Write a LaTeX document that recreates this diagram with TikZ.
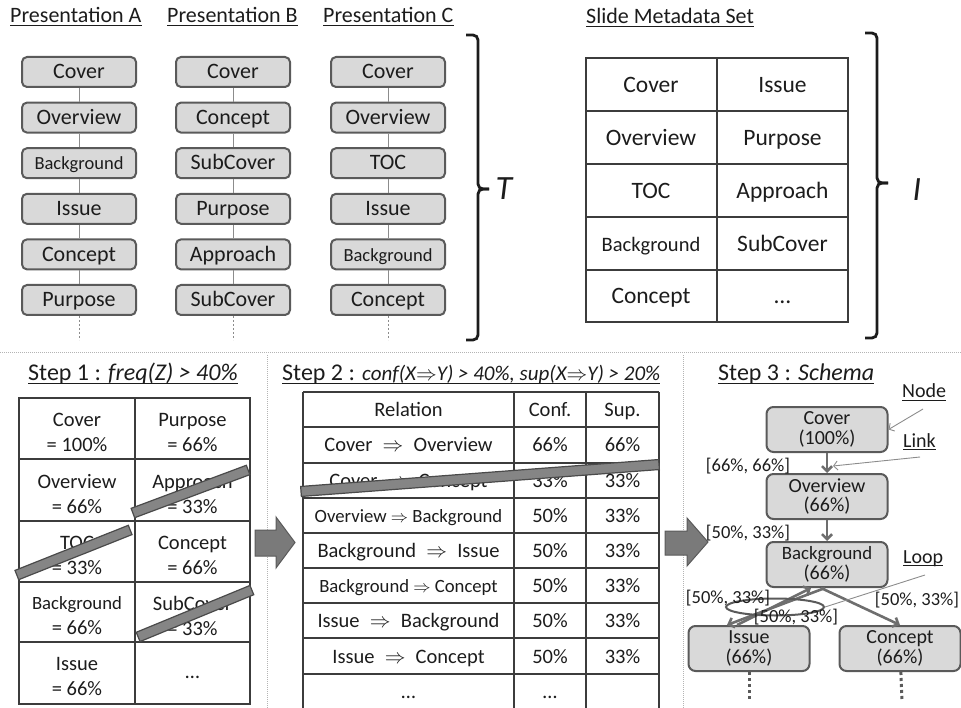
\documentclass[tikz,border=0pt]{standalone}
\usepackage{fontspec}
\setmainfont{Carlito}
\usetikzlibrary{arrows.meta,shapes.geometric}

\definecolor{boxfill}{HTML}{D9D9D9}
\definecolor{boxline}{HTML}{5A5A5A}
\definecolor{linkgray}{HTML}{6E6E6E}
\definecolor{thingray}{HTML}{8C8C8C}
\definecolor{strikefill}{HTML}{858585}
\definecolor{strikeline}{HTML}{4A4A4A}
\definecolor{arrowfill}{HTML}{7A7A7A}
\definecolor{divgray}{HTML}{B4B4B4}
\definecolor{gridc}{HTML}{3C3C3C}
\definecolor{ink}{HTML}{1C1C1C}

\newcommand{\setfs}[1]{\fontsize{#1}{#1}\selectfont}
\newcommand{\setfsl}[2]{\fontsize{#1}{#2}\selectfont}

\begin{document}
\begin{tikzpicture}[x=1pt,y=-1pt,
  slide/.style={draw=boxline, fill=boxfill, line width=2pt, rounded corners=5pt,
    minimum width=114pt, minimum height=30pt, inner sep=0pt, text=ink, font=\setfs{22},
    text height=16.5pt, text depth=3pt},
  seq/.style={draw=thingray, line width=0.9pt},
  more/.style={draw=thingray, line width=0.9pt, dash pattern=on 2pt off 2pt},
  title/.style={inner sep=0pt, anchor=base west, text=ink, font=\setfs{22}},
  steptitle/.style={title, font=\setfs{24}},
  uline/.style={draw=ink, line width=0.9pt},
  grid/.style={draw=gridc, line width=1.3pt},
  mcell/.style={inner sep=0pt, text=ink, font=\setfs{23.5}, text height=19pt, text depth=3pt},
  fcell/.style={inner sep=0pt, text=ink, align=center, font=\setfsl{20.5}{25}, yshift=-4pt},
  rcell/.style={inner sep=0pt, text=ink, font=\setfs{20.5}, text height=17pt, text depth=3pt},
  strike/.style={draw=strikeline, fill=strikefill, line width=1.2pt, minimum height=10pt, inner sep=0pt},
  block/.style={draw=boxline, fill=arrowfill, line width=1pt},
  schema/.style={draw=boxline, fill=boxfill, line width=2pt, rounded corners=7pt,
    minimum width=121pt, minimum height=45pt, inner sep=0pt, align=center, text=ink,
    font=\setfsl{20}{19.5}},
  link/.style={draw=linkgray, line width=2.6pt, -{Straight Barb[length=5pt,width=10pt]}},
  lbl/.style={inner sep=0pt, text=ink, font=\setfs{18.5}},
  pointer/.style={draw=thingray, line width=0.9pt, -{Straight Barb[length=4pt,width=9pt]}},
  brace/.style={draw=ink, line width=2.8pt, rounded corners=5pt},
  divider/.style={draw=divgray, line width=0.9pt, dash pattern=on 1pt off 1pt},
  tail/.style={draw=boxline, line width=3pt, dash pattern=on 3pt off 3pt}
]
\useasboundingbox (0,0) rectangle (961,708);

% ---------- three presentations ----------
\node[title] (tA) at (10,23) {Presentation A};
\node[title] (tB) at (167,23) {Presentation B};
\node[title] (tC) at (323,23) {Presentation C};

\foreach [count=\i] \t in {Cover,Overview,{\setfs{18.5}Background},Issue,Concept,Purpose}
  \node[slide] (A\i) at (79,{72+45.6*(\i-1)}) {\t};
\foreach [count=\i] \t in {Cover,Concept,SubCover,Purpose,Approach,SubCover}
  \node[slide] (B\i) at (233,{72+45.6*(\i-1)}) {\t};
\foreach [count=\i] \t in {Cover,Overview,TOC,Issue,{\setfs{18.5}Background},Concept}
  \node[slide] (C\i) at (388,{72+45.6*(\i-1)}) {\t};

\foreach \p in {A,B,C}{
  \foreach \i/\j in {1/2,2/3,3/4,4/5,5/6}
    \draw[seq] (\p\i) -- (\p\j);
}
\coordinate (Aend) at (79,340);
\coordinate (Bend) at (233,340);
\coordinate (Cend) at (388,340);
\draw[more] (A6) -- (Aend);
\draw[more] (B6) -- (Bend);
\draw[more] (C6) -- (Cend);

% brace T
\draw[brace] (466,35) -| (478,189) -- (489,189);
\draw[brace] (489,189) -- (478,189) |- (466,340);
\node[inner sep=0pt, text=ink, font=\setfs{34}\itshape] (T) at (504,189) {T};

% ---------- slide metadata set ----------
\node[title] (tM) at (586,24) {Slide Metadata Set};
\draw[grid] (586,58) rectangle (848,322);
\foreach \y in {111,164,217,270} \draw[grid] (586,\y) -- (848,\y);
\draw[grid] (717,58) -- (717,322);
\node[mcell] (m11) at (651,84.5) {Cover};
\node[mcell] (m12) at (782.5,84.5) {Issue};
\node[mcell] (m21) at (651,137.5) {Overview};
\node[mcell] (m22) at (782.5,137.5) {Purpose};
\node[mcell] (m31) at (651,190.5) {TOC};
\node[mcell] (m32) at (782.5,190.5) {Approach};
\node[mcell, font=\setfs{20.5}] (m41) at (651,243.5) {Background};
\node[mcell] (m42) at (782.5,243.5) {SubCover};
\node[mcell] (m51) at (651,296) {Concept};
\node[mcell] (m52) at (782.5,296) {\ldots};

% brace I
\draw[brace] (865,33) -| (877,183) -- (888,183);
\draw[brace] (888,183) -- (877,183) |- (865,338);
\node[inner sep=0pt, text=ink, font=\setfs{34}\itshape] (I) at (917,190) {I};

% ---------- dividers ----------
\draw[divider] (0,352) -- (961,352);
\draw[divider] (267,355) -- (267,708);
\draw[divider] (683,355) -- (683,708);

% ---------- step 1 ----------
\node[steptitle] (s1) at (28,381) {Step 1 : \textit{freq(Z) > 40\%}};
\draw[grid] (19,398) rectangle (250,704);
\foreach \y in {459,521,582,642} \draw[grid] (19,\y) -- (250,\y);
\draw[grid] (135,398) -- (135,704);
\node[fcell] (f11) at (77,428.5) {Cover\\= 100\%};
\node[fcell] (f12) at (192.5,428.5) {Purpose\\= 66\%};
\node[fcell] (f21) at (77,490) {Overview\\= 66\%};
\node[fcell] (f22) at (192.5,490) {Approach\\= 33\%};
\node[fcell] (f31) at (77,551.5) {TOC\\= 33\%};
\node[fcell] (f32) at (192.5,551.5) {Concept\\= 66\%};
\node[fcell] (f41) at (77,612) {{\setfsl{18.7}{25}Background}\\= 66\%};
\node[fcell] (f42) at (192.5,612) {SubCover\\= 33\%};
\node[fcell] (f51) at (77,673) {Issue\\= 66\%};
\node[fcell] (f52) at (192.5,673) {\ldots};

\node[strike, minimum width=123pt, rotate=20.5] (x1) at (190.5,491.5) {};
\node[strike, minimum width=122pt, rotate=21.7] (x2) at (73.5,552.5) {};
\node[strike, minimum width=123pt, rotate=22.4] (x3) at (195,613.5) {};

% arrow to step 2
\draw[block] (255,530) -- (276,530) -- (276,517) -- (295,542.5) -- (276,568)
  -- (276,556) -- (255,556) -- cycle;

% ---------- step 2 ----------
\node[steptitle] (s2) at (282,381) {Step 2 : {\setfs{21}\itshape conf(X$\Rightarrow$Y) > 40\%, sup(X$\Rightarrow$Y) > 20\%}\ };
\foreach \x in {303,514,586,659} \draw[grid] (\x,392) -- (\x,708);
\foreach \y in {392,427,463,498,533,568,603,638,674} \draw[grid] (303,\y) -- (659,\y);
\foreach [count=\i] \r/\c/\s in {
    Relation/Conf./Sup.,
    Cover\enspace$\Rightarrow$\enspace Overview/66\%/66\%,
    Cover\enspace$\Rightarrow$\enspace Concept/33\%/33\%,
    {\setfs{18.7}Overview $\Rightarrow$ Background}/50\%/33\%,
    Background\enspace$\Rightarrow$\enspace Issue/50\%/33\%,
    {\setfs{18.7}Background $\Rightarrow$ Concept}/50\%/33\%,
    Issue\enspace$\Rightarrow$\enspace Background/50\%/33\%,
    Issue\enspace$\Rightarrow$\enspace Concept/50\%/33\%,
    \ldots/\ldots/{}}{
  \node[rcell] (r\i a) at (408.5,{392+35.2*(\i-1)+17.6}) {\r};
  \node[rcell] (r\i b) at (550,{392+35.2*(\i-1)+17.6}) {\c};
  \node[rcell] (r\i c) at (622.5,{392+35.2*(\i-1)+17.6}) {\s};
}
\node[strike, minimum width=359pt, rotate=4.3] (x4) at (480,478) {};

% arrow to step 3
\draw[block] (665,531) -- (687,531) -- (687,518) -- (708,542) -- (687,566)
  -- (687,555) -- (665,555) -- cycle;

% ---------- step 3 ----------
\node[steptitle] (s3) at (718,381) {Step 3 : \textit{Schema}};

\node[schema] (cov) at (827,429.5) {Cover\\(100\%)};
\node[schema] (ovw) at (827,496.5) {Overview\\(66\%)};
\node[schema] (bg)  at (827,564.5) {{\setfsl{18.8}{19.5}Background}\\(66\%)};
\node[schema] (iss) at (749,648.5) {Issue\\(66\%)};
\node[schema] (con) at (900,648.5) {Concept\\(66\%)};

\draw[link] (cov) -- (ovw);
\draw[link] (ovw) -- (bg);
\draw[link] ([xshift=-2pt]bg.south) -- ([xshift=-22pt]iss.north);
\draw[link] ([xshift=-12pt]iss.north) -- ([xshift=-16pt]bg.south);
\draw[link] ([xshift=-6pt]bg.south) -- (con.north);

\node[ellipse, draw=boxline, line width=2pt, minimum width=98pt, minimum height=17pt, inner sep=0pt] (loop) at (775,607) {};

\node[lbl] (l1) at (748,466) {[66\%, 66\%]};
\node[lbl] (l2) at (748,533) {[50\%, 33\%]};
\node[lbl] (l3) at (728,598) {[50\%, 33\%]};
\node[lbl] (l4) at (796,617) {[50\%, 33\%]};
\node[lbl] (l5) at (917,600) {[50\%, 33\%]};

\coordinate (issEnd) at (749,701);
\coordinate (conEnd) at (902,701);
\draw[tail] (iss) -- (issEnd);
\draw[tail] (con) -- (conEnd);

% annotations
\node[title, font=\setfs{20}] (nN) at (902,398) {Node};
\node[title, font=\setfs{20}] (nL) at (903,447) {Link};
\node[title, font=\setfs{20}] (nP) at (903,563) {Loop};
\coordinate (nNtail) at (923,409);
\coordinate (nLtail) at (920,457);
\coordinate (nPtail) at (925,575);
\coordinate (linkHit) at (833,466);
\draw[pointer] (nNtail) -- (cov.east);
\draw[pointer] (nLtail) -- (linkHit);
\draw[draw=thingray, line width=0.9pt] (nPtail) -- (loop.east);

% underlines of headings
\foreach \n in {tA,tB,tC,tM,s1,s2,s3,nN,nL,nP}
  \draw[uline] ([yshift=-2.5pt]\n.base west) -- ([yshift=-2.5pt]\n.base east);
\end{tikzpicture}
\end{document}
